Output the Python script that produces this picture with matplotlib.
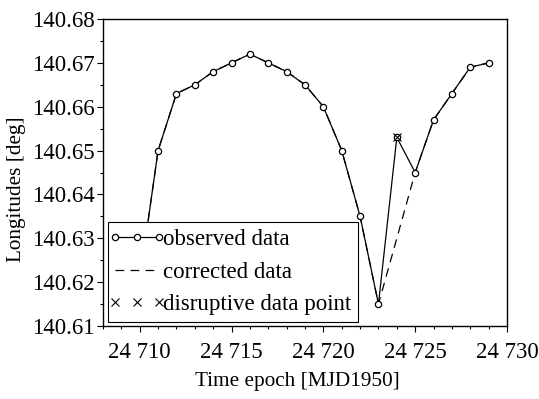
import matplotlib
matplotlib.use("Agg")
import matplotlib.pyplot as plt
from matplotlib.ticker import MultipleLocator
from matplotlib.lines import Line2D
from matplotlib.legend_handler import HandlerLine2D

# epoch [MJD1950] and longitudes [deg]
epoch = [24710, 24711, 24712, 24713, 24714, 24715, 24716, 24717, 24718, 24719,
         24720, 24721, 24722, 24723, 24724, 24725, 24726, 24727, 24728, 24729]
observed = [140.6205, 140.650, 140.663, 140.665, 140.668, 140.670, 140.672, 140.670,
            140.668, 140.665, 140.660, 140.650, 140.635, 140.615, 140.653, 140.645,
            140.657, 140.663, 140.669, 140.670]

# disrupted point removed
corr_epoch = [24710, 24711, 24712, 24713, 24714, 24715, 24716, 24717, 24718, 24719,
              24720, 24721, 24722, 24723, 24725, 24726, 24727, 24728, 24729]
corrected = [140.6205, 140.650, 140.663, 140.665, 140.668, 140.670, 140.672, 140.670,
             140.668, 140.665, 140.660, 140.650, 140.635, 140.615, 140.645,
             140.657, 140.663, 140.669, 140.670]

bad_epoch = [24724]
bad_value = [140.653]

xticks = [24710, 24715, 24720, 24725, 24730]
xticklabels = ['24 710', '24 715', '24 720', '24 725', '24 730']
yticks = [140.61, 140.62, 140.63, 140.64, 140.65, 140.66, 140.67, 140.68]

plt.rcParams['font.family'] = 'Liberation Serif'
plt.rcParams['font.size'] = 16.5

fig = plt.figure(figsize=(5.39, 3.99), dpi=100)
ax = fig.add_axes([103/539, 1 - 326/399, 404/539, 307/399])

ax.plot(corr_epoch, corrected, color='black', lw=0.9, ls=(0, (7, 5)),
        label='corrected data')
ax.plot(epoch, observed, color='black', lw=0.9, marker='o', ms=4.5,
        mfc='white', mec='black', mew=0.9, label='observed data')
ax.plot(bad_epoch, bad_value, ls='none', marker='x', ms=6, color='black',
        mew=0.8, label='disruptive data point')

ax.set_xlim(24708, 24730)
ax.set_ylim(140.61, 140.68)
ax.set_xticks(xticks)
ax.set_xticklabels(xticklabels)
ax.set_yticks(yticks)
ax.set_yticklabels(['%.2f' % v for v in yticks])
ax.xaxis.set_minor_locator(MultipleLocator(1))
ax.yaxis.set_minor_locator(MultipleLocator(0.005))
ax.tick_params(which='both', direction='out', top=False, right=False, width=0.8)
ax.tick_params(which='major', length=4.5, pad=1.5)
ax.tick_params(which='minor', length=2.5)
ax.tick_params(axis='x', which='major', pad=7)
for s in ax.spines.values():
    s.set_linewidth(1.0)

ax.set_xlabel('Time epoch [MJD1950]', fontsize=15.3)
ax.set_ylabel('Longitudes [deg]', fontsize=15.3)
ax.xaxis.set_label_coords(0.48, -0.15)
ax.yaxis.set_label_coords(-0.19, 0.445)

h, l = ax.get_legend_handles_labels()
leg = ax.legend([h[1], h[0], h[2]], [l[1], l[0], l[2]], loc='lower left',
                numpoints=3, handlelength=1.95, handletextpad=0.15,
                borderaxespad=0.0, borderpad=0.3, labelspacing=0.5,
                fancybox=False, framealpha=1, edgecolor='black', fontsize=16.5,
                bbox_to_anchor=(0.012, 0.013),
                handler_map={Line2D: HandlerLine2D(marker_pad=0)})
leg.get_frame().set_linewidth(0.8)

fig.savefig('out.png', dpi=100)
